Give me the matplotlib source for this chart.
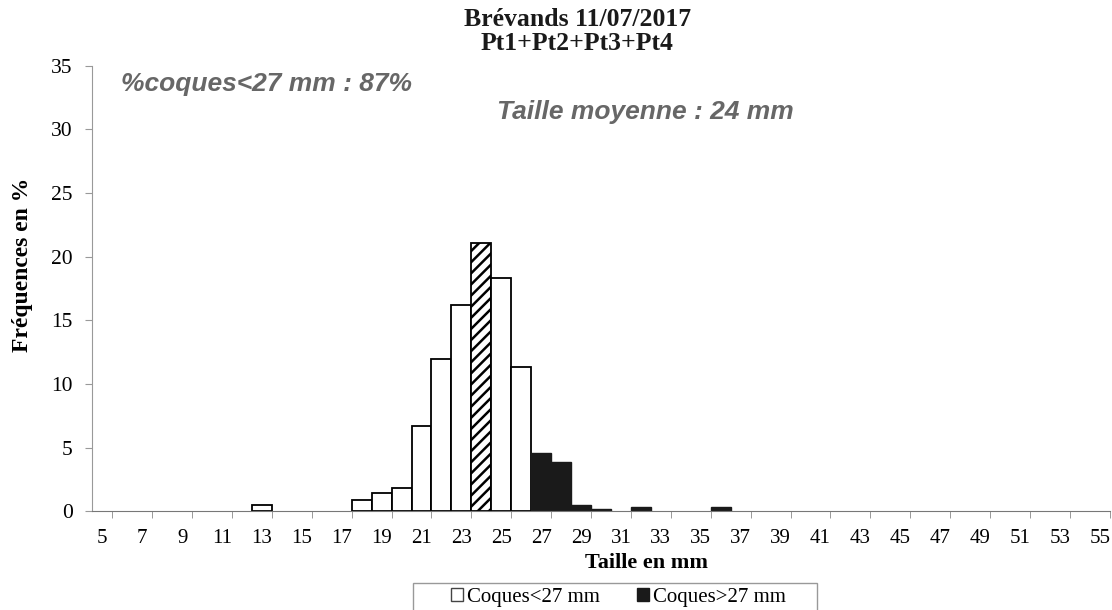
import numpy as np
import matplotlib.pyplot as plt
from matplotlib.patches import Patch, Rectangle

# Tailles (mm) et fréquences (%) - seules les classes non nulles
tailles_petites = [13, 18, 19, 20, 21, 22, 23, 24, 25, 26]
freq_petites = [0.45, 0.87, 1.4, 1.8, 6.7, 12.0, 16.2, 21.1, 18.3, 11.3]
tailles_grandes = [27, 28, 29, 30, 32, 36]
freq_grandes = [4.6, 3.9, 0.47, 0.2, 0.3, 0.3]
taille_moyenne = 24
tick_pos = list(range(5, 56, 2))
tick_labels = [str(t) for t in tick_pos]

plt.rcParams['font.family'] = 'Liberation Serif'
plt.rcParams['hatch.color'] = '#4a4a4a'
plt.rcParams['hatch.linewidth'] = 1.8

fig = plt.figure(figsize=(11.12, 6.10), dpi=100)
ax = fig.add_axes([0.083, 0.162, 0.915, 0.730])

bars = ax.bar(tailles_petites, freq_petites, width=1.0, color='white',
              edgecolor='black', linewidth=1.3)
for b, t in zip(bars, tailles_petites):
    if t == taille_moyenne:
        b.set_hatch('///')
ax.bar(tailles_grandes, freq_grandes, width=1.0, color='#1a1a1a',
       edgecolor='#1a1a1a', linewidth=1.0)

ax.set_xlim(4.5, 55.5)
ax.set_ylim(0, 35)
ax.set_yticks(range(0, 36, 5))
ax.set_xticks(tick_pos)
ax.set_xticklabels(tick_labels)
ax.tick_params(axis='x', length=0, labelsize=15, pad=13)
ax.set_xticks(np.arange(5.5, 56, 2), minor=True)
ax.tick_params(axis='x', which='minor', length=5, color='#888888', direction='out')
ax.tick_params(axis='y', length=5, color='#999999', labelsize=15.5, pad=9)

for s in ['top', 'right']:
    ax.spines[s].set_visible(False)
ax.spines['left'].set_color('#999999')
ax.spines['bottom'].set_color('#777777')

ax.set_xlabel('Taille en mm', fontsize=16, fontweight='bold')
ax.xaxis.set_label_coords(0.545, -0.095)
ax.set_ylabel('Fréquences en %', fontsize=17, fontweight='bold')
ax.yaxis.set_label_coords(-0.058, 0.553)

fig.text(0.519, 0.968, 'Brévands 11/07/2017', ha='center', va='center',
         fontsize=18.5, fontweight='bold', color='#1a1a1a')
fig.text(0.519, 0.928, 'Pt1+Pt2+Pt3+Pt4', ha='center', va='center',
         fontsize=18.5, fontweight='bold', color='#1a1a1a')

fig.text(0.109, 0.863, '%coques<27 mm : 87%', ha='left', va='center',
         fontsize=19, fontstyle='italic', fontweight='bold', color='#676767',
         family='Liberation Sans')
fig.text(0.447, 0.817, 'Taille moyenne : 24 mm', ha='left', va='center',
         fontsize=19, fontstyle='italic', fontweight='bold', color='#676767',
         family='Liberation Sans')

# légende : cadre dessiné à part, plus large que le contenu
cadre = Rectangle((413 / 1112, -0.01), (817 - 413) / 1112, 1 - 583 / 610 + 0.01,
                  transform=fig.transFigure, facecolor='white', edgecolor='#999999',
                  linewidth=1.0)
fig.add_artist(cadre)
handles = [Patch(facecolor='white', edgecolor='#444444', label='Coques<27 mm'),
           Patch(facecolor='#1a1a1a', edgecolor='#1a1a1a', label='Coques>27 mm')]
leg = fig.legend(handles=handles, loc='upper center', bbox_to_anchor=(0.556, 0.045),
                 ncol=2, fontsize=15, frameon=False,
                 handlelength=0.6, handleheight=0.6, handletextpad=0.2,
                 columnspacing=1.75, borderpad=0.25, borderaxespad=0)

fig.savefig('out.png', dpi=100)
